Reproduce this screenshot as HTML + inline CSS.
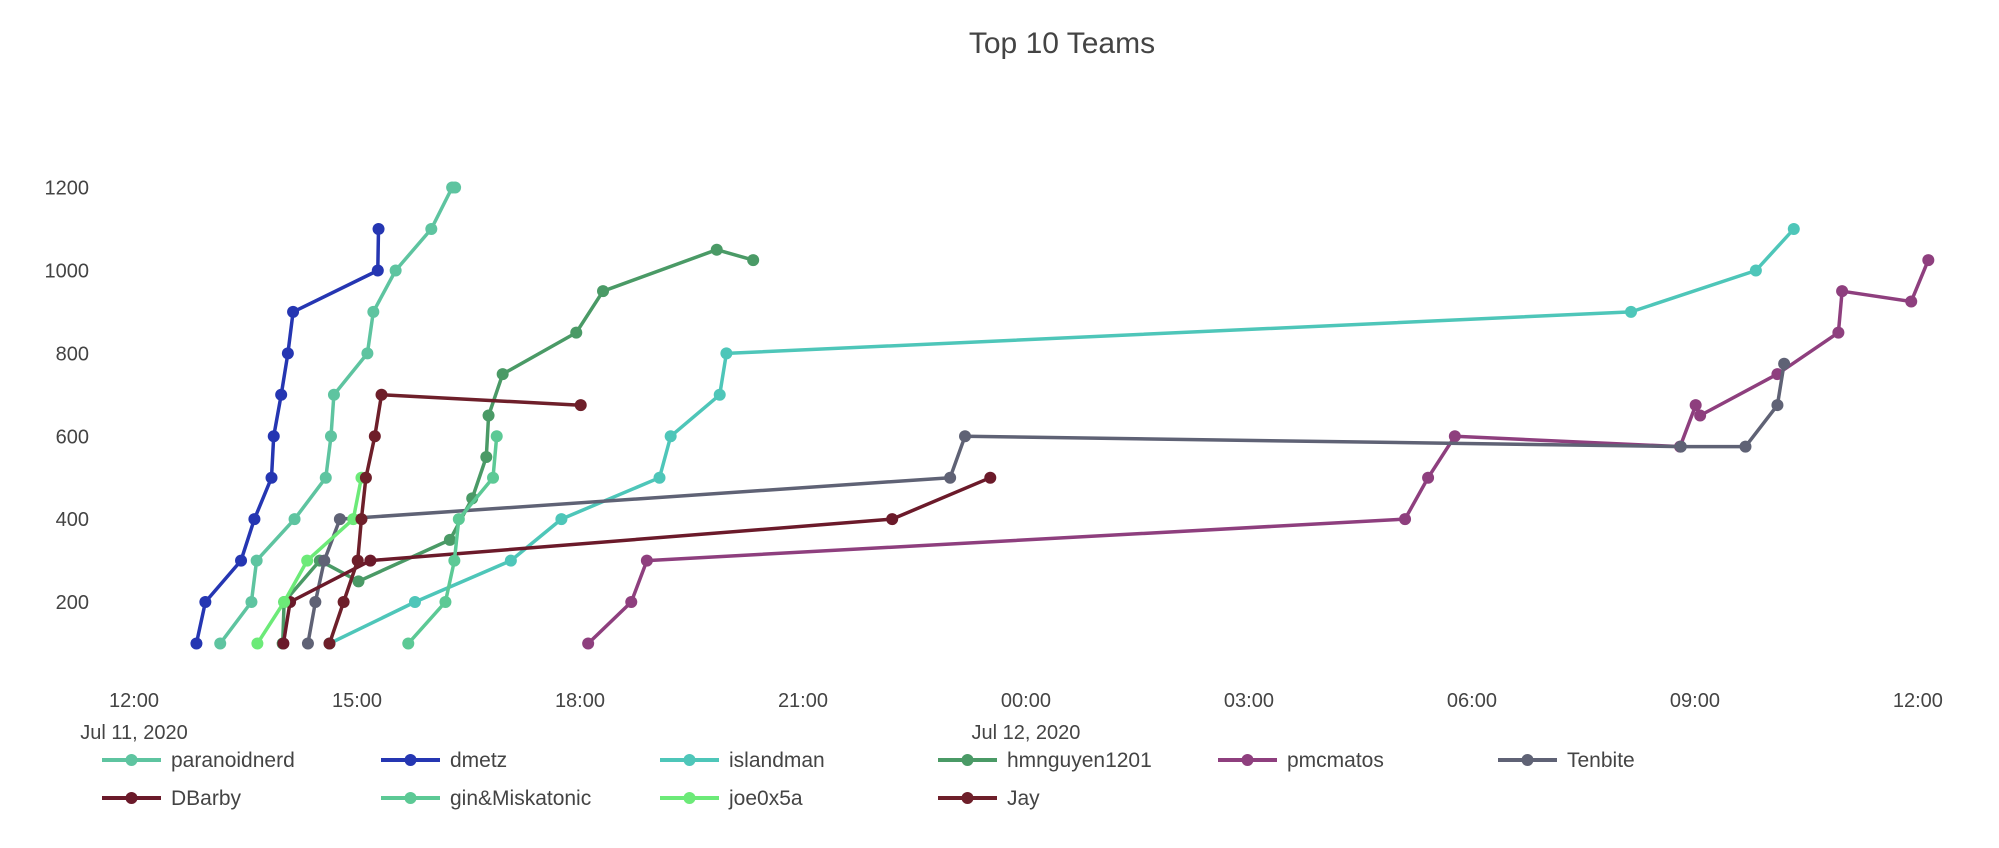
<!DOCTYPE html>
<html><head><meta charset="utf-8"><style>
html,body{margin:0;padding:0;background:#fff;}
svg{display:block;font-family:"Liberation Sans","DejaVu Sans",sans-serif;}
</style></head><body>
<svg id="chart" width="1999" height="848" viewBox="0 0 1999 848">
<text x="1062" y="53" text-anchor="middle" font-size="30" fill="#444">Top 10 Teams</text>
<g id="yaxis"></g>
<g id="xaxis"></g>
<g id="plot"></g>
<g id="legend"></g>
</svg>
<script>
// hours since Jul 11 2020 00:00
const yTicks = [200,400,600,800,1000,1200];
const xTickHours = [12,15,18,21,24,27,30,33,36];
const xTickLabels = ["12:00","15:00","18:00","21:00","00:00","03:00","06:00","09:00","12:00"];
const xTickDates = ["Jul 11, 2020","","","","Jul 12, 2020","","","",""];
const seriesNames = ["paranoidnerd","dmetz","islandman","hmnguyen1201","pmcmatos","Tenbite","DBarby","gin&Miskatonic","joe0x5a","Jay"];
const seriesColors = ["#5ec4a0","#2536b2","#4ec6b9","#4a9a66","#8e3f7e","#5f6275","#6b1a2a","#5cc995","#6cea78","#6e1f2a"];
const paranoidTimes = [13.16,13.58,13.65,14.16,14.58,14.65,14.69,15.14,15.22,15.52,16.0,16.28,16.32];
const paranoidScores = [100,200,300,400,500,600,700,800,900,1000,1100,1200,1200];
const dmetzTimes = [12.84,12.96,13.44,13.62,13.85,13.88,13.98,14.07,14.14,15.28,15.29];
const dmetzScores = [100,200,300,400,500,600,700,800,900,1000,1100];
const islandTimes = [14.63,15.78,17.07,17.75,19.07,19.22,19.88,19.97,32.14,33.82,34.33];
const islandScores = [100,200,300,400,500,600,700,800,900,1000,1100];
const hmnTimes = [14.0,14.02,14.5,15.02,16.25,16.55,16.74,16.77,16.96,17.95,18.31,19.84,20.33];
const hmnScores = [100,200,300,250,350,450,550,650,750,850,950,1050,1025];
const pmcTimes = [18.11,18.69,18.90,29.10,29.41,29.77,32.80,33.01,33.07,34.11,34.93,34.98,35.91,36.14];
const pmcScores = [100,200,300,400,500,600,575,675,650,750,850,950,925,1025];
const tenTimes = [14.34,14.44,14.56,14.77,22.98,23.18,32.81,33.68,34.11,34.20];
const tenScores = [100,200,300,400,500,600,575,575,675,775];
const dbarbyTimes = [14.01,14.10,15.18,22.20,23.52];
const dbarbyScores = [100,200,300,400,500];
const ginTimes = [15.69,16.19,16.31,16.37,16.83,16.88];
const ginScores = [100,200,300,400,500,600];
const joeTimes = [13.66,14.02,14.33,14.95,15.06];
const joeScores = [100,200,300,400,500];
const jayTimes = [14.63,14.82,15.01,15.06,15.12,15.24,15.33,18.01];
const jayScores = [100,200,300,400,500,600,700,675];

const allTimes = [paranoidTimes,dmetzTimes,islandTimes,hmnTimes,pmcTimes,tenTimes,dbarbyTimes,ginTimes,joeTimes,jayTimes];
const allScores = [paranoidScores,dmetzScores,islandScores,hmnScores,pmcScores,tenScores,dbarbyScores,ginScores,joeScores,jayScores];

const NS = "http://www.w3.org/2000/svg";
function xScale(h){ return 134 + (h-12)*74.33; }
function yScale(v){ return 643.5 - (v-100)*0.4145; }
function mk(tag, attrs, parent){ const e=document.createElementNS(NS,tag); for(const k in attrs) e.setAttribute(k,attrs[k]); parent.appendChild(e); return e; }

const yaxis=document.getElementById('yaxis');
yTicks.forEach(v=>{
  const t=mk('text',{x:89,y:yScale(v)+7,'text-anchor':'end','font-size':20,fill:'#444'},yaxis);
  t.textContent=v;
  
  
});
const xaxis=document.getElementById('xaxis');
xTickHours.forEach((h,i)=>{
  const t=mk('text',{x:xScale(h),y:707,'text-anchor':'middle','font-size':20,fill:'#444'},xaxis);
  t.textContent=xTickLabels[i];
  
  
  if(xTickDates[i]){
    const d=mk('text',{x:xScale(h),y:739,'text-anchor':'middle','font-size':20,fill:'#444'},xaxis);
    d.textContent=xTickDates[i];
    
    
  }
});
const plot=document.getElementById('plot');
allTimes.forEach((ts,si)=>{
  const g=mk('g',{},plot);
  
  
  const pts=ts.map((h,i)=>xScale(h).toFixed(1)+','+yScale(allScores[si][i]).toFixed(1)).join(' ');
  const pl=mk('polyline',{points:pts,fill:'none',stroke:seriesColors[si],'stroke-width':3.5,'stroke-linejoin':'round'},g);
  
  
  ts.forEach((h,i)=>{
    const c=mk('circle',{cx:xScale(h),cy:yScale(allScores[si][i]),r:6,fill:seriesColors[si]},g);
    
    
  });
});
const legend=document.getElementById('legend');
const colX=[102,381,660,938,1218,1498];
seriesNames.forEach((n,i)=>{
  const col=i%6, row=Math.floor(i/6);
  const x=colX[col], y=760+row*38;
  const g=mk('g',{},legend);
  
  
  mk('line',{x1:x,y1:y,x2:x+59,y2:y,stroke:seriesColors[i],'stroke-width':4},g);
  mk('circle',{cx:x+29.5,cy:y,r:6,fill:seriesColors[i]},g);
  const t=mk('text',{x:x+69,y:y+7,'font-size':21,fill:'#444'},g);
  t.textContent=n;
});
</script>
</body></html>
